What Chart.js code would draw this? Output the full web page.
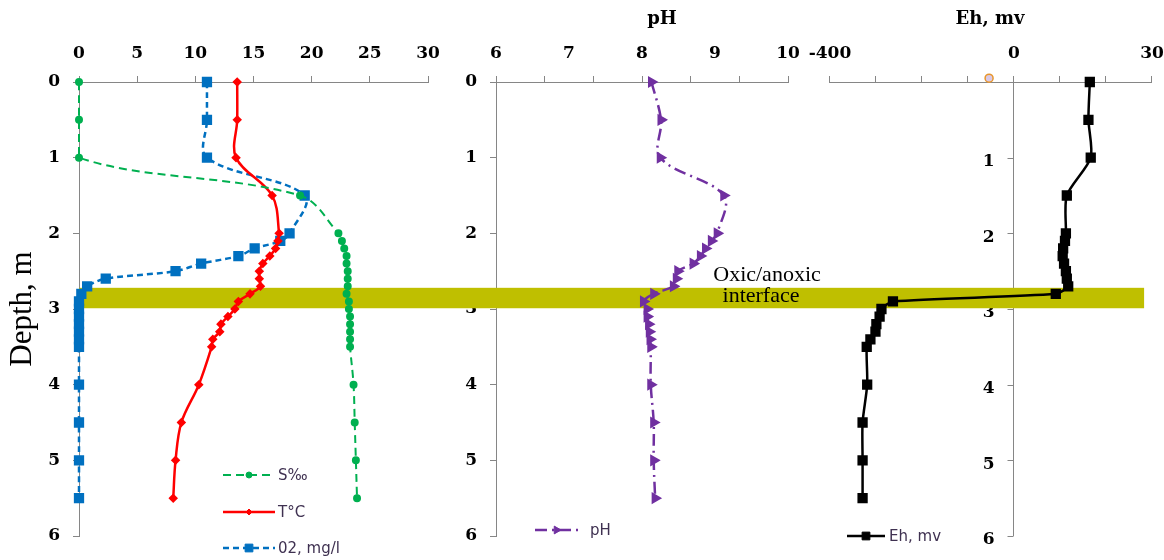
<!DOCTYPE html>
<html lang="en">
<head>
<meta charset="UTF-8">
<title>Depth profiles: salinity, temperature, O2, pH, Eh</title>
<script src="https://cdn.jsdelivr.net/npm/chart.js"></script>
<style>
  body { margin: 0; background: #ffffff; }
  #wrap { position: relative; width: 1164px; height: 560px; }
  #wrap canvas { position: absolute; left: 0; top: 0; }
</style>
</head>
<body>
<div id="wrap">
  <canvas id="chemChart" width="1164" height="560"></canvas>
  <canvas id="phChart" width="1164" height="560"></canvas>
  <canvas id="ehChart" width="1164" height="560"></canvas>
</div>
<script>
// sampling depths, m
const depth = [0, 0.5, 1, 1.5, 2, 2.1, 2.2, 2.3, 2.4, 2.5, 2.6, 2.7, 2.8, 2.9, 3, 3.1, 3.2, 3.3, 3.4, 3.5, 4, 4.5, 5, 5.5];

const salinity = [0, 0, 0, 19.0, 22.3, 22.6, 22.8, 23.0, 23.0, 23.1, 23.1, 23.1, 23.0, 23.2, 23.2, 23.3, 23.3, 23.3, 23.3, 23.3, 23.6, 23.7, 23.8, 23.9];
const temperature = [13.6, 13.6, 13.5, 16.6, 17.2, 17.1, 16.9, 16.4, 15.8, 15.5, 15.5, 15.6, 14.7, 13.7, 13.4, 12.8, 12.2, 12.1, 11.5, 11.4, 10.3, 8.8, 8.3, 8.1];
const oxygen = [11.0, 11.0, 11.0, 19.4, 18.1, 17.3, 15.1, 13.7, 10.5, 8.3, 2.3, 0.7, 0.2, 0, 0, 0, 0, 0, 0, 0, 0, 0, 0, 0];
const ph = [8.13, 8.26, 8.25, 9.12, 9.03, 8.95, 8.87, 8.80, 8.70, 8.49, 8.47, 8.43, 8.16, 8.02, 8.07, 8.07, 8.09, 8.10, 8.11, 8.12, 8.12, 8.16, 8.16, 8.18];
const eh = [167, 164, 169, 117, 115, 113, 109, 108, 111, 115, 117, 120, 93, -261, -286, -290, -297, -299, -310, -318, -317, -327, -327, -327];

// stray marker sitting on the Eh axis
const ehMarkValue = [-52];
const ehMarkDepth = [-0.05];

// oxic/anoxic interface layer, m
const bandTop = 2.72;
const bandBottom = 2.99;

// tick labels
const chemTicks = [0, 5, 10, 15, 20, 25, 30];
const phTickValues = [6, 6 + 1 / 3, 6 + 2 / 3, 7, 7 + 1 / 3, 7 + 2 / 3, 8, 8 + 1 / 3, 8 + 2 / 3, 9, 9 + 1 / 3, 9 + 2 / 3, 10];
const phTickLabels = ['6', '7', '8', '9', '10'];
const ehTickValues = [-400, -300, -200, -100, 0, 100, 200, 300];
const ehTickLabels = ['-400', '', '', '', '0', '', '', '30'];
const depthTicks = [0, 1, 2, 3, 4, 5, 6];
const ehDepthLabels = ['', '1', '2', '3', '4', '5', '6'];

const AXIS_GREY = '#868686';
const tickFont = { family: 'DejaVu Serif', size: 17, weight: 'bold' };
const titleFont = { family: 'DejaVu Serif', size: 18, weight: 'bold' };

function series(values) {
  return depth.map((d, i) => ({ x: values[i], y: d }));
}

function depthAxis(extra) {
  return Object.assign({
    type: 'linear',
    reverse: true,
    min: 0,
    max: 6,
    afterBuildTicks: s => { s.ticks = depthTicks.map(v => ({ value: v })); },
    ticks: { color: '#000', font: tickFont, padding: 13 },
    grid: { drawOnChartArea: false, tickLength: 6, color: AXIS_GREY, tickColor: AXIS_GREY },
    border: { color: AXIS_GREY, width: 1 }
  }, extra);
}

function topAxis(min, max, extra) {
  return Object.assign({
    type: 'linear',
    position: 'top',
    min: min,
    max: max,
    afterFit: s => { s.height = 82; s.paddingLeft = 0; s.paddingRight = 0; },
    ticks: { color: '#000', font: tickFont, padding: 12, autoSkip: false, maxRotation: 0 },
    grid: { drawOnChartArea: false, tickLength: 6, color: AXIS_GREY, tickColor: AXIS_GREY },
    border: { color: AXIS_GREY, width: 1 }
  }, extra);
}

// yellow interface band, drawn under the lines but over the axes
function bandPlugin(fromX, toX) {
  return {
    id: 'interfaceBand',
    beforeDatasetsDraw(chart) {
      const y = chart.scales.y;
      const top = y.getPixelForValue(bandTop);
      const bottom = y.getPixelForValue(bandBottom);
      const x0 = fromX(chart), x1 = toX(chart);
      const ctx = chart.ctx;
      ctx.save();
      ctx.fillStyle = '#bfbf00';
      ctx.fillRect(x0, top, x1 - x0, bottom - top);
      ctx.restore();
    }
  };
}

// depth axis of the Eh panel crosses the Eh scale at 0 mV
const zeroAxisPlugin = {
  id: 'zeroAxis',
  beforeDatasetsDraw(chart) {
    const xs = chart.scales.x, ys = chart.scales.y;
    const ax = Math.round(xs.getPixelForValue(0)) + 0.5;
    const ctx = chart.ctx;
    ctx.save();
    ctx.strokeStyle = AXIS_GREY;
    ctx.lineWidth = 1;
    ctx.beginPath();
    ctx.moveTo(ax, chart.chartArea.top);
    ctx.lineTo(ax, chart.chartArea.bottom);
    depthTicks.forEach(v => {
      const py = Math.round(ys.getPixelForValue(v)) + 0.5;
      ctx.moveTo(ax, py);
      ctx.lineTo(ax - 6, py);
    });
    ctx.stroke();
    ctx.fillStyle = '#000';
    ctx.font = 'bold 17px "DejaVu Serif"';
    ctx.textAlign = 'right';
    ctx.textBaseline = 'middle';
    depthTicks.forEach((v, i) => {
      ctx.fillText(ehDepthLabels[i], ax - 19, ys.getPixelForValue(v) + 4);
    });
    ctx.restore();
  }
};

function drawMarker(ctx, ds, x, y) {
  const opts = { pointStyle: ds.pointStyle, radius: ds.pointRadius, rotation: ds.pointRotation || 0, borderWidth: 1 };
  ctx.fillStyle = ds.pointBackgroundColor;
  ctx.strokeStyle = ds.pointBorderColor;
  ctx.lineWidth = 1;
  if (Chart.helpers && Chart.helpers.drawPoint) {
    Chart.helpers.drawPoint(ctx, opts, x, y);
  } else {
    ctx.fillRect(x - 3, y - 3, 6, 6);
  }
}

// hand placed legend entries: line sample, marker, label
const legendPlugin = {
  id: 'profileLegend',
  afterDraw(chart, args, opts) {
    const ctx = chart.ctx;
    (opts.items || []).forEach(item => {
      const ds = chart.data.datasets[item.index];
      ctx.save();
      ctx.strokeStyle = ds.borderColor;
      ctx.lineWidth = ds.borderWidth;
      ctx.setLineDash(ds.borderDash || []);
      ctx.beginPath();
      ctx.moveTo(item.x, item.y);
      ctx.lineTo(item.x + item.len, item.y);
      ctx.stroke();
      ctx.setLineDash([]);
      drawMarker(ctx, ds, item.x + item.len / 2, item.y);
      ctx.fillStyle = '#3f3151';
      ctx.font = '15px "DejaVu Sans"';
      ctx.textBaseline = 'middle';
      ctx.textAlign = 'left';
      ctx.fillText(ds.label, item.textX, item.y + 1);
      ctx.restore();
    });
  }
};

// free text: panel title and the interface note
const notePlugin = {
  id: 'notes',
  afterDatasetsDraw(chart, args, opts) {
    const ctx = chart.ctx;
    const y = chart.scales.y;
    (opts.items || []).forEach(n => {
      ctx.save();
      ctx.font = n.font;
      ctx.fillStyle = '#000';
      ctx.textAlign = 'center';
      ctx.textBaseline = 'alphabetic';
      const py = n.depth !== undefined ? y.getPixelForValue(n.depth) : n.y;
      ctx.fillText(n.text, n.x, py);
      ctx.restore();
    });
  }
};

const baseOptions = {
  responsive: false,
  animation: false,
  events: [],
  plugins: { legend: { display: false }, tooltip: { enabled: false } }
};

// ---- salinity / temperature / oxygen ----
new Chart(document.getElementById('chemChart'), {
  type: 'line',
  data: {
    datasets: [
      {
        label: 'S\u2030', data: series(salinity),
        borderColor: '#00b050', borderWidth: 2, borderDash: [8, 5], tension: 0.35,
        pointStyle: 'circle', pointRadius: 3, pointBackgroundColor: '#00b050', pointBorderColor: '#00b050',
        clip: false
      },
      {
        label: 'T\u00b0C', data: series(temperature),
        borderColor: '#ff0000', borderWidth: 2.5, tension: 0.35,
        pointStyle: 'rectRot', pointRadius: 3, pointBackgroundColor: '#ff0000', pointBorderColor: '#ff0000',
        clip: false
      },
      {
        label: '02, mg/l', data: series(oxygen),
        borderColor: '#0070c0', borderWidth: 2.5, borderDash: [6, 4], tension: 0.35,
        pointStyle: 'rect', pointRadius: 5.5, pointBackgroundColor: '#0070c0', pointBorderColor: '#0070c0',
        clip: false
      }
    ]
  },
  options: Object.assign({}, baseOptions, {
    layout: { padding: { left: 0, top: 0, right: 736, bottom: 24 } },
    scales: {
      x: topAxis(0, 30, {
        afterBuildTicks: s => { s.ticks = chemTicks.map(v => ({ value: v })); }
      }),
      y: depthAxis({
        afterFit: s => { s.width = 79; },
        title: { display: true, text: 'Depth, m', color: '#000', font: { family: 'Liberation Serif', size: 31 }, padding: { top: 4, bottom: 0 } }
      })
    },
    plugins: Object.assign({}, baseOptions.plugins, {
      profileLegend: {
        items: [
          { index: 0, x: 223, y: 475, len: 52, textX: 278 },
          { index: 1, x: 223, y: 512, len: 52, textX: 278 },
          { index: 2, x: 223, y: 548, len: 52, textX: 278 }
        ]
      }
    })
  }),
  plugins: [bandPlugin(c => c.chartArea.left, c => 440), legendPlugin]
});

// ---- pH ----
new Chart(document.getElementById('phChart'), {
  type: 'line',
  data: {
    datasets: [
      {
        label: 'pH', data: series(ph),
        borderColor: '#7030a0', borderWidth: 2.5, borderDash: [12, 5, 2, 5], tension: 0.35,
        pointStyle: 'triangle', pointRotation: 90, pointRadius: 4.5,
        pointBackgroundColor: '#7030a0', pointBorderColor: '#7030a0',
        clip: false
      }
    ]
  },
  options: Object.assign({}, baseOptions, {
    layout: { padding: { left: 436, top: 0, right: 376, bottom: 24 } },
    scales: {
      x: topAxis(6, 10, {
        afterBuildTicks: s => { s.ticks = phTickValues.map(v => ({ value: v })); },
        ticks: {
          color: '#000', font: tickFont, padding: 12, autoSkip: false, maxRotation: 0,
          callback: (v, i) => (i % 3 === 0 ? phTickLabels[i / 3] : '')
        },
        grid: {
          drawOnChartArea: false, tickLength: 6, color: AXIS_GREY,
          tickColor: ctx => (ctx.index % 2 === 0 ? AXIS_GREY : 'rgba(0,0,0,0)')
        }
      }),
      y: depthAxis({ afterFit: s => { s.width = 60; } })
    },
    plugins: Object.assign({}, baseOptions.plugins, {
      profileLegend: { items: [{ index: 0, x: 535, y: 530, len: 43, textX: 590 }] },
      notes: {
        items: [
          { text: 'pH', x: 662, y: 24, font: 'bold 18px "DejaVu Serif"' },
          { text: 'Oxic/anoxic', x: 767, depth: 2.63, font: '22px "Liberation Serif"' },
          { text: 'interface', x: 761, depth: 2.91, font: '22px "Liberation Serif"' }
        ]
      }
    })
  }),
  plugins: [bandPlugin(c => 440, c => 810), legendPlugin, notePlugin]
});

// ---- Eh ----
new Chart(document.getElementById('ehChart'), {
  type: 'line',
  data: {
    datasets: [
      {
        label: 'Eh, mv', data: series(eh),
        borderColor: '#000000', borderWidth: 2.5, tension: 0.25,
        pointStyle: 'rect', pointRadius: 5.5, pointBackgroundColor: '#000000', pointBorderColor: '#000000',
        clip: false
      },
      {
        label: '', data: ehMarkValue.map((v, i) => ({ x: v, y: ehMarkDepth[i] })),
        showLine: false, pointStyle: 'circle', pointRadius: 4, borderWidth: 1.5,
        pointBackgroundColor: '#d9c9e6', pointBorderColor: '#e8962a', pointBorderWidth: 1.5,
        clip: false
      }
    ]
  },
  options: Object.assign({}, baseOptions, {
    layout: { padding: { left: 829, top: 0, right: 13, bottom: 24 } },
    scales: {
      x: topAxis(-400, 300, {
        afterBuildTicks: s => { s.ticks = ehTickValues.map(v => ({ value: v })); },
        ticks: {
          color: '#000', font: tickFont, padding: 12, autoSkip: false, maxRotation: 0, labelOffset: 1,
          callback: (v, i) => ehTickLabels[i]
        },
        title: { display: true, text: 'Eh, mv', color: '#000', font: titleFont, padding: { top: 9, bottom: 0 } }
      }),
      y: depthAxis({ display: false })
    },
    plugins: Object.assign({}, baseOptions.plugins, {
      profileLegend: { items: [{ index: 0, x: 847, y: 536, len: 38, textX: 889 }] }
    })
  }),
  plugins: [zeroAxisPlugin, bandPlugin(c => 810, c => c.scales.x.getPixelForValue(285)), legendPlugin]
});
</script>
</body>
</html>
